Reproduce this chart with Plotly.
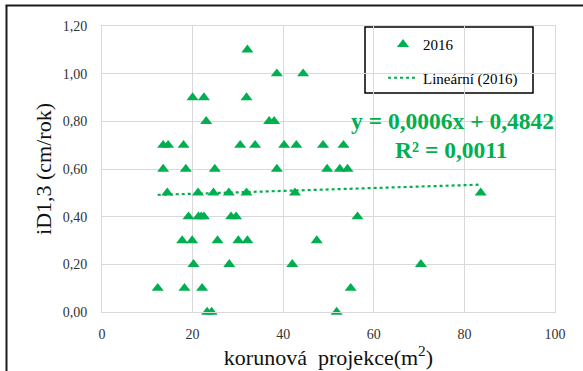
import plotly.graph_objects as go

# Crown projection area (m2) and diameter increment iD1,3 (cm/year), season 2016
projekce = [
    32.1,
    38.6, 44.4,
    20.0, 22.5, 31.9,
    23.0, 36.9, 38.0,
    13.5, 14.6, 18.0, 30.5, 33.8, 40.2, 42.9, 48.8, 53.3,
    13.5, 18.5, 24.9, 38.6, 49.7, 52.5, 54.2,
    14.4, 21.2, 24.6, 28.0, 31.9, 42.6, 83.6,
    19.1, 21.3, 21.9, 22.5, 28.5, 29.6, 56.4,
    17.7, 19.9, 25.5, 30.1, 32.1, 47.4,
    20.2, 28.1, 42.0, 70.4,
    12.3, 18.2, 22.1, 54.9,
    23.2, 24.2, 51.8,
]
prirust = [
    1.10,
    1.00, 1.00,
    0.90, 0.90, 0.90,
    0.80, 0.80, 0.80,
    0.70, 0.70, 0.70, 0.70, 0.70, 0.70, 0.70, 0.70, 0.70,
    0.60, 0.60, 0.60, 0.60, 0.60, 0.60, 0.60,
    0.50, 0.50, 0.50, 0.50, 0.50, 0.50, 0.50,
    0.40, 0.40, 0.40, 0.40, 0.40, 0.40, 0.40,
    0.30, 0.30, 0.30, 0.30, 0.30, 0.30,
    0.20, 0.20, 0.20, 0.20,
    0.10, 0.10, 0.10, 0.10,
    0.00, 0.00, 0.00,
]

# Linear trend as reported in the equation label
sklon = 0.0006
absolutni_clen = 0.4842
r2 = 0.0011

x_ticks = [0, 20, 40, 60, 80, 100]
y_ticks = [0.0, 0.2, 0.4, 0.6, 0.8, 1.0, 1.2]

GREEN = "#00B050"
SERIF = "Liberation Serif"

# plot-area geometry in pixels (used to place paper-referenced decorations)
W, H = 583, 371
L, R, T, B = 102, 28, 26, 59
PW, PH = W - L - R, H - T - B


def px_x(p):
    return (p - L) / PW


def px_y(p):
    return (H - B - p) / PH


trend_x = [min(projekce), max(projekce)]
trend_y = [sklon * v + absolutni_clen for v in trend_x]

fig = go.Figure()
fig.add_trace(go.Scatter(
    x=projekce, y=prirust, mode="markers", name="2016",
    legendgroup="a", cliponaxis=False,
    marker=dict(symbol="triangle-up", size=10.5, color=GREEN),
))
fig.add_trace(go.Scatter(
    x=trend_x, y=trend_y, mode="lines", name="Lineární (2016)",
    legendgroup="b",
    line=dict(color=GREEN, width=2.2, dash="dot"),
))

axis_common = dict(
    showgrid=True, gridcolor="#d9d9d9", gridwidth=1,
    showline=True, linecolor="#d9d9d9", linewidth=1, mirror=True,
    zeroline=False, ticks="",
    tickfont=dict(family=SERIF, size=14, color="#333333"),
)

fig.update_xaxes(
    range=[0, 100], tickvals=x_ticks, ticklabelstandoff=9,
    title=dict(text="korunová\u00a0 projekce(m<sup>2</sup>)",
               font=dict(family=SERIF, size=22, color="#111111"), standoff=3),
    **axis_common,
)
fig.update_yaxes(
    range=[0, 1.2], tickvals=y_ticks, tickformat=".2f", ticklabelstandoff=11,
    title=dict(text="iD1,3 (cm/rok)",
               font=dict(family=SERIF, size=22, color="#111111"), standoff=5),
    **axis_common,
)

shapes = [
    # legend frame
    dict(type="rect", xref="paper", yref="paper",
         x0=px_x(365), x1=px_x(533), y0=px_y(93), y1=px_y(27),
         line=dict(color="black", width=1.5), fillcolor="white", layer="below"),
    # outer chart frame (left and top edges)
    dict(type="line", xref="paper", yref="paper",
         x0=px_x(6.5), x1=px_x(6.5), y0=px_y(400), y1=px_y(5.5),
         line=dict(color="#1a1a1a", width=2)),
    dict(type="line", xref="paper", yref="paper",
         x0=px_x(5.5), x1=px_x(620), y0=px_y(5.5), y1=px_y(5.5),
         line=dict(color="#1a1a1a", width=2)),
]

annotations = [
    dict(text="y = 0,0006x + 0,4842", xref="paper", yref="paper",
         x=px_x(452), y=px_y(121), xanchor="center", yanchor="middle",
         showarrow=False, font=dict(family=SERIF, size=23.5, color=GREEN, weight="bold")),
    dict(text="R² = 0,0011", xref="paper", yref="paper",
         x=px_x(451), y=px_y(150), xanchor="center", yanchor="middle",
         showarrow=False, font=dict(family=SERIF, size=23.5, color=GREEN, weight="bold")),
]

fig.update_layout(
    width=W, height=H,
    margin=dict(l=L, r=R, t=T, b=B, autoexpand=False),
    paper_bgcolor="white", plot_bgcolor="white",
    separators=", ",
    showlegend=True,
    legend=dict(
        x=px_x(383), y=px_y(28), xanchor="left", yanchor="top",
        bgcolor="rgba(0,0,0,0)", borderwidth=0,
        font=dict(family=SERIF, size=15, color="black"),
        tracegroupgap=11,
    ),
    shapes=shapes,
    annotations=annotations,
)

fig.write_html("out.html")
